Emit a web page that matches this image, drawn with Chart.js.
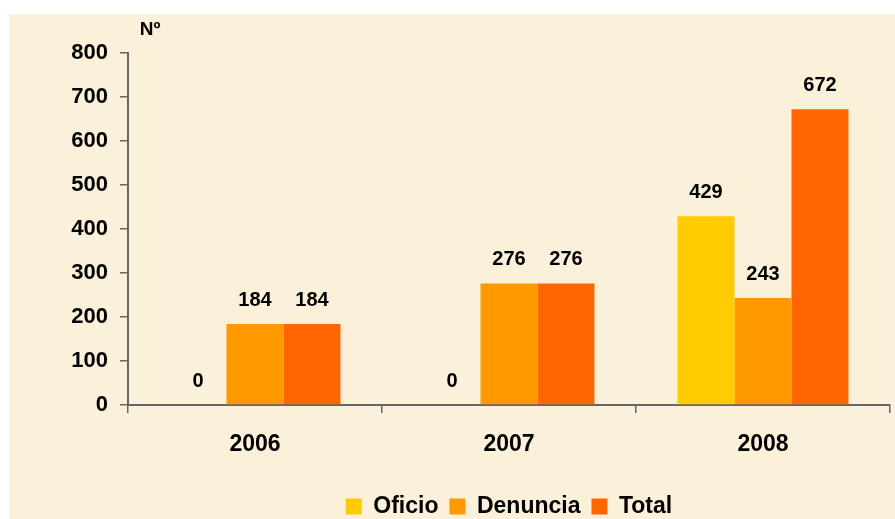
<!DOCTYPE html>
<html>
<head>
<meta charset="utf-8">
<script src="https://cdn.jsdelivr.net/npm/chart.js@4.4.0/dist/chart.umd.min.js"></script>
<style>
  html, body { margin: 0; padding: 0; background: #ffffff; }
  #wrap { position: absolute; left: 9px; top: 14px; width: 886px; height: 505px; background: #fbf0da; }
</style>
</head>
<body>
<div id="wrap"><canvas id="chart_den" width="886" height="505"></canvas></div>
<script>
// años y series
var years = ["2006", "2007", "2008"];
var oficio = [0, 0, 429];
var denuncia = [184, 276, 243];
var total = [184, 276, 672];
var yTicks = [0, 100, 200, 300, 400, 500, 600, 700, 800];

var fontFam = "'Liberation Sans', Arial, sans-serif";

// etiquetas encima de las barras + "Nº"
var labelPlugin = {
    id: 'labelPlugin',
    afterLayout: function(chart) {
        // centrar la leyenda sobre el area del grafico y bajarla un poco
        var lg = chart.legend;
        if (lg) {
            lg.left = chart.chartArea.left;
            lg.right = chart.chartArea.right;
            lg.width = lg.right - lg.left;
            lg.top = 470;
            lg.bottom = lg.top + lg.height;
        }
    },
    afterDatasetsDraw: function(chart) {
        var ctx = chart.ctx;
        ctx.save();
        ctx.fillStyle = '#000';
        ctx.font = 'bold 20px ' + fontFam;
        ctx.textAlign = 'center';
        ctx.textBaseline = 'middle';
        chart.data.datasets.forEach(function(ds, i) {
            var meta = chart.getDatasetMeta(i);
            meta.data.forEach(function(bar, j) {
                ctx.fillText(String(ds.data[j]), bar.x, bar.y - 24);
            });
        });
        ctx.font = 'bold 19px ' + fontFam;
        ctx.fillText('Nº', chart.chartArea.left + 22, chart.chartArea.top - 23);
        ctx.restore();
    }
};

const ctd = document.getElementById('chart_den');
new Chart(ctd, {
    type: 'bar',
    data: {
        labels: years,
        datasets: [{
            label: 'Oficio',
            backgroundColor: '#ffcc00',
            data: oficio
        }, {
            label: 'Denuncia',
            backgroundColor: '#ff9900',
            data: denuncia
        }, {
            label: 'Total',
            backgroundColor: '#ff6600',
            data: total
        }]
    },
    options: {
        responsive: false,
        animation: false,
        devicePixelRatio: 1,
        layout: { padding: { top: 39, right: 5, left: 0, bottom: 0 } },
        datasets: { bar: { barPercentage: 1, categoryPercentage: 0.673 } },
        scales: {
            x: {
                grid: { offset: true, drawOnChartArea: false, tickLength: 8, color: '#666', lineWidth: 1.5 },
                border: { display: true, color: '#666', width: 2 },
                ticks: { color: '#000', padding: 18, font: { family: fontFam, size: 23, weight: 'bold' } },
                afterFit: function(s) { s.height = 70; }
            },
            y: {
                min: 0,
                max: 800,
                afterBuildTicks: function(s) { s.ticks = yTicks.map(function(v) { return { value: v }; }); },
                grid: { drawOnChartArea: false, tickLength: 8, color: '#666', lineWidth: 1.5 },
                border: { display: true, color: '#666', width: 2 },
                ticks: { color: '#000', padding: 12, font: { family: fontFam, size: 22, weight: 'bold' } },
                afterFit: function(s) { s.width = 119; }
            }
        },
        plugins: {
            tooltip: { enabled: false },
            legend: {
                position: 'bottom',
                labels: {
                    color: '#000',
                    boxWidth: 16,
                    boxHeight: 16,
                    padding: 11,
                    font: { family: fontFam, size: 23, weight: 'bold' }
                }
            }
        }
    },
    plugins: [labelPlugin]
});
</script>
</body>
</html>
